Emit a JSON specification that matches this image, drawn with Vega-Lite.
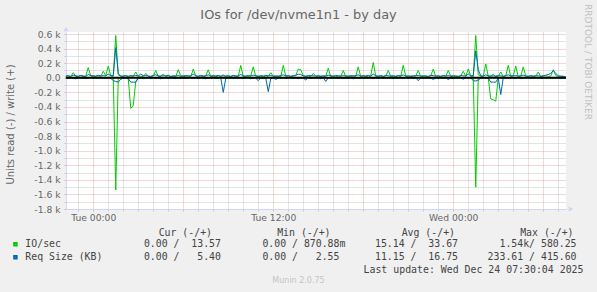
{
  "$schema": "https://vega.github.io/schema/vega-lite/v6.json",
  "width": 500,
  "height": 177,
  "autosize": {"type": "none"},
  "padding": {"left": 66, "top": 32, "right": 31, "bottom": 83},
  "background": "#F0F0F0",
  "config": {
    "font": "DejaVu Sans",
    "view": {"fill": "white", "stroke": null},
    "axis": {"labelFont": "DejaVu Sans", "titleFont": "DejaVu Sans"}
  },
  "data": {"values": [
    {"t":"2025-12-22T22:10Z","iw":18,"ir":0,"sw":25,"sr":0},
    {"t":"2025-12-22T22:20Z","iw":22,"ir":0,"sw":30,"sr":-10},
    {"t":"2025-12-22T22:30Z","iw":15,"ir":0,"sw":20,"sr":0},
    {"t":"2025-12-22T22:40Z","iw":70,"ir":0,"sw":35,"sr":-5},
    {"t":"2025-12-22T22:50Z","iw":20,"ir":0,"sw":28,"sr":-15},
    {"t":"2025-12-22T23:00Z","iw":12,"ir":0,"sw":22,"sr":0},
    {"t":"2025-12-22T23:10Z","iw":28,"ir":0,"sw":32,"sr":-8},
    {"t":"2025-12-22T23:20Z","iw":17,"ir":0,"sw":26,"sr":0},
    {"t":"2025-12-22T23:30Z","iw":21,"ir":0,"sw":18,"sr":-12},
    {"t":"2025-12-22T23:40Z","iw":140,"ir":0,"sw":45,"sr":-3},
    {"t":"2025-12-22T23:50Z","iw":24,"ir":0,"sw":28,"sr":0},
    {"t":"2025-12-23T00:00Z","iw":16,"ir":0,"sw":30,"sr":-6},
    {"t":"2025-12-23T00:10Z","iw":19,"ir":0,"sw":22,"sr":0},
    {"t":"2025-12-23T00:20Z","iw":26,"ir":0,"sw":34,"sr":-10},
    {"t":"2025-12-23T00:30Z","iw":14,"ir":0,"sw":27,"sr":-4},
    {"t":"2025-12-23T00:40Z","iw":90,"ir":0,"sw":30,"sr":0},
    {"t":"2025-12-23T00:50Z","iw":30,"ir":0,"sw":24,"sr":-8},
    {"t":"2025-12-23T01:00Z","iw":160,"ir":0,"sw":50,"sr":0},
    {"t":"2025-12-23T01:10Z","iw":25,"ir":0,"sw":28,"sr":-5},
    {"t":"2025-12-23T01:20Z","iw":20,"ir":0,"sw":30,"sr":-40},
    {"t":"2025-12-23T01:30Z","iw":580,"ir":-1540,"sw":415,"sr":-50},
    {"t":"2025-12-23T01:40Z","iw":40,"ir":0,"sw":60,"sr":-60},
    {"t":"2025-12-23T01:50Z","iw":22,"ir":0,"sw":20,"sr":-20},
    {"t":"2025-12-23T02:00Z","iw":18,"ir":0,"sw":26,"sr":-5},
    {"t":"2025-12-23T02:10Z","iw":27,"ir":0,"sw":30,"sr":0},
    {"t":"2025-12-23T02:20Z","iw":15,"ir":-10,"sw":22,"sr":-10},
    {"t":"2025-12-23T02:30Z","iw":30,"ir":-420,"sw":28,"sr":-60},
    {"t":"2025-12-23T02:40Z","iw":20,"ir":-380,"sw":24,"sr":-60},
    {"t":"2025-12-23T02:50Z","iw":80,"ir":-50,"sw":32,"sr":-60},
    {"t":"2025-12-23T03:00Z","iw":18,"ir":0,"sw":26,"sr":-8},
    {"t":"2025-12-23T03:10Z","iw":22,"ir":0,"sw":50,"sr":0},
    {"t":"2025-12-23T03:20Z","iw":16,"ir":0,"sw":28,"sr":-12},
    {"t":"2025-12-23T03:30Z","iw":60,"ir":0,"sw":30,"sr":-4},
    {"t":"2025-12-23T03:40Z","iw":21,"ir":0,"sw":24,"sr":0},
    {"t":"2025-12-23T03:50Z","iw":13,"ir":0,"sw":20,"sr":-10},
    {"t":"2025-12-23T04:00Z","iw":24,"ir":0,"sw":32,"sr":0},
    {"t":"2025-12-23T04:10Z","iw":100,"ir":0,"sw":40,"sr":-6},
    {"t":"2025-12-23T04:20Z","iw":19,"ir":0,"sw":26,"sr":0},
    {"t":"2025-12-23T04:30Z","iw":23,"ir":0,"sw":22,"sr":-14},
    {"t":"2025-12-23T04:40Z","iw":50,"ir":0,"sw":30,"sr":-3},
    {"t":"2025-12-23T04:50Z","iw":17,"ir":0,"sw":27,"sr":0},
    {"t":"2025-12-23T05:00Z","iw":26,"ir":0,"sw":34,"sr":-9},
    {"t":"2025-12-23T05:10Z","iw":14,"ir":0,"sw":20,"sr":0},
    {"t":"2025-12-23T05:20Z","iw":20,"ir":0,"sw":28,"sr":-5},
    {"t":"2025-12-23T05:30Z","iw":18,"ir":0,"sw":25,"sr":-12},
    {"t":"2025-12-23T05:40Z","iw":110,"ir":0,"sw":30,"sr":0},
    {"t":"2025-12-23T05:50Z","iw":25,"ir":0,"sw":22,"sr":-7},
    {"t":"2025-12-23T06:00Z","iw":16,"ir":0,"sw":29,"sr":0},
    {"t":"2025-12-23T06:10Z","iw":21,"ir":0,"sw":31,"sr":-10},
    {"t":"2025-12-23T06:20Z","iw":28,"ir":0,"sw":24,"sr":-2},
    {"t":"2025-12-23T06:30Z","iw":15,"ir":0,"sw":26,"sr":0},
    {"t":"2025-12-23T06:40Z","iw":120,"ir":0,"sw":50,"sr":-8},
    {"t":"2025-12-23T06:50Z","iw":22,"ir":0,"sw":28,"sr":0},
    {"t":"2025-12-23T07:00Z","iw":19,"ir":0,"sw":21,"sr":-11},
    {"t":"2025-12-23T07:10Z","iw":24,"ir":0,"sw":33,"sr":0},
    {"t":"2025-12-23T07:20Z","iw":13,"ir":0,"sw":25,"sr":-5},
    {"t":"2025-12-23T07:30Z","iw":27,"ir":0,"sw":27,"sr":-14},
    {"t":"2025-12-23T07:40Z","iw":110,"ir":0,"sw":40,"sr":0},
    {"t":"2025-12-23T07:50Z","iw":18,"ir":0,"sw":23,"sr":-6},
    {"t":"2025-12-23T08:00Z","iw":22,"ir":0,"sw":30,"sr":0},
    {"t":"2025-12-23T08:10Z","iw":16,"ir":0,"sw":26,"sr":-9},
    {"t":"2025-12-23T08:20Z","iw":25,"ir":0,"sw":32,"sr":-3},
    {"t":"2025-12-23T08:30Z","iw":20,"ir":0,"sw":22,"sr":0},
    {"t":"2025-12-23T08:40Z","iw":40,"ir":0,"sw":28,"sr":-200},
    {"t":"2025-12-23T08:50Z","iw":17,"ir":0,"sw":25,"sr":-10},
    {"t":"2025-12-23T09:00Z","iw":23,"ir":0,"sw":30,"sr":0},
    {"t":"2025-12-23T09:10Z","iw":14,"ir":0,"sw":21,"sr":-5},
    {"t":"2025-12-23T09:20Z","iw":26,"ir":0,"sw":34,"sr":-12},
    {"t":"2025-12-23T09:30Z","iw":19,"ir":0,"sw":27,"sr":0},
    {"t":"2025-12-23T09:40Z","iw":21,"ir":0,"sw":24,"sr":-7},
    {"t":"2025-12-23T09:50Z","iw":170,"ir":0,"sw":45,"sr":0},
    {"t":"2025-12-23T10:00Z","iw":15,"ir":0,"sw":28,"sr":-10},
    {"t":"2025-12-23T10:10Z","iw":24,"ir":0,"sw":22,"sr":-2},
    {"t":"2025-12-23T10:20Z","iw":18,"ir":0,"sw":31,"sr":0},
    {"t":"2025-12-23T10:30Z","iw":27,"ir":0,"sw":26,"sr":-13},
    {"t":"2025-12-23T10:40Z","iw":150,"ir":0,"sw":35,"sr":0},
    {"t":"2025-12-23T10:50Z","iw":20,"ir":0,"sw":29,"sr":-6},
    {"t":"2025-12-23T11:00Z","iw":16,"ir":0,"sw":23,"sr":-40},
    {"t":"2025-12-23T11:10Z","iw":22,"ir":0,"sw":30,"sr":0},
    {"t":"2025-12-23T11:20Z","iw":13,"ir":0,"sw":25,"sr":-8},
    {"t":"2025-12-23T11:30Z","iw":25,"ir":0,"sw":33,"sr":-4},
    {"t":"2025-12-23T11:40Z","iw":19,"ir":0,"sw":27,"sr":-190},
    {"t":"2025-12-23T11:50Z","iw":70,"ir":0,"sw":30,"sr":-10},
    {"t":"2025-12-23T12:00Z","iw":21,"ir":0,"sw":24,"sr":0},
    {"t":"2025-12-23T12:10Z","iw":17,"ir":0,"sw":28,"sr":-25},
    {"t":"2025-12-23T12:20Z","iw":24,"ir":0,"sw":21,"sr":0},
    {"t":"2025-12-23T12:30Z","iw":15,"ir":0,"sw":32,"sr":-9},
    {"t":"2025-12-23T12:40Z","iw":170,"ir":0,"sw":40,"sr":0},
    {"t":"2025-12-23T12:50Z","iw":20,"ir":0,"sw":26,"sr":-11},
    {"t":"2025-12-23T13:00Z","iw":26,"ir":0,"sw":30,"sr":-3},
    {"t":"2025-12-23T13:10Z","iw":14,"ir":0,"sw":23,"sr":0},
    {"t":"2025-12-23T13:20Z","iw":22,"ir":0,"sw":28,"sr":-7},
    {"t":"2025-12-23T13:30Z","iw":30,"ir":0,"sw":34,"sr":0},
    {"t":"2025-12-23T13:40Z","iw":120,"ir":0,"sw":50,"sr":-12},
    {"t":"2025-12-23T13:50Z","iw":110,"ir":0,"sw":45,"sr":0},
    {"t":"2025-12-23T14:00Z","iw":28,"ir":0,"sw":26,"sr":-5},
    {"t":"2025-12-23T14:10Z","iw":18,"ir":0,"sw":22,"sr":-30},
    {"t":"2025-12-23T14:20Z","iw":23,"ir":0,"sw":29,"sr":0},
    {"t":"2025-12-23T14:30Z","iw":16,"ir":0,"sw":31,"sr":-10},
    {"t":"2025-12-23T14:40Z","iw":60,"ir":0,"sw":27,"sr":0},
    {"t":"2025-12-23T14:50Z","iw":21,"ir":0,"sw":24,"sr":-6},
    {"t":"2025-12-23T15:00Z","iw":15,"ir":0,"sw":30,"sr":0},
    {"t":"2025-12-23T15:10Z","iw":25,"ir":0,"sw":20,"sr":-13},
    {"t":"2025-12-23T15:20Z","iw":19,"ir":0,"sw":28,"sr":0},
    {"t":"2025-12-23T15:30Z","iw":22,"ir":0,"sw":25,"sr":-50},
    {"t":"2025-12-23T15:40Z","iw":130,"ir":0,"sw":35,"sr":0},
    {"t":"2025-12-23T15:50Z","iw":17,"ir":0,"sw":30,"sr":-8},
    {"t":"2025-12-23T16:00Z","iw":24,"ir":0,"sw":22,"sr":0},
    {"t":"2025-12-23T16:10Z","iw":14,"ir":0,"sw":33,"sr":-4},
    {"t":"2025-12-23T16:20Z","iw":26,"ir":0,"sw":26,"sr":-11},
    {"t":"2025-12-23T16:30Z","iw":20,"ir":0,"sw":24,"sr":0},
    {"t":"2025-12-23T16:40Z","iw":100,"ir":0,"sw":30,"sr":-6},
    {"t":"2025-12-23T16:50Z","iw":18,"ir":0,"sw":27,"sr":0},
    {"t":"2025-12-23T17:00Z","iw":23,"ir":0,"sw":21,"sr":-9},
    {"t":"2025-12-23T17:10Z","iw":15,"ir":0,"sw":31,"sr":0},
    {"t":"2025-12-23T17:20Z","iw":27,"ir":0,"sw":25,"sr":-14},
    {"t":"2025-12-23T17:30Z","iw":21,"ir":0,"sw":28,"sr":0},
    {"t":"2025-12-23T17:40Z","iw":150,"ir":0,"sw":40,"sr":-3},
    {"t":"2025-12-23T17:50Z","iw":16,"ir":0,"sw":23,"sr":0},
    {"t":"2025-12-23T18:00Z","iw":24,"ir":0,"sw":30,"sr":-10},
    {"t":"2025-12-23T18:10Z","iw":19,"ir":0,"sw":26,"sr":0},
    {"t":"2025-12-23T18:20Z","iw":13,"ir":0,"sw":32,"sr":-7},
    {"t":"2025-12-23T18:30Z","iw":25,"ir":0,"sw":22,"sr":0},
    {"t":"2025-12-23T18:40Z","iw":210,"ir":0,"sw":50,"sr":-12},
    {"t":"2025-12-23T18:50Z","iw":20,"ir":0,"sw":28,"sr":0},
    {"t":"2025-12-23T19:00Z","iw":17,"ir":0,"sw":24,"sr":-5},
    {"t":"2025-12-23T19:10Z","iw":23,"ir":0,"sw":30,"sr":0},
    {"t":"2025-12-23T19:20Z","iw":15,"ir":0,"sw":21,"sr":-9},
    {"t":"2025-12-23T19:30Z","iw":26,"ir":0,"sw":33,"sr":0},
    {"t":"2025-12-23T19:40Z","iw":100,"ir":0,"sw":27,"sr":-4},
    {"t":"2025-12-23T19:50Z","iw":18,"ir":0,"sw":25,"sr":0},
    {"t":"2025-12-23T20:00Z","iw":22,"ir":0,"sw":29,"sr":-13},
    {"t":"2025-12-23T20:10Z","iw":14,"ir":0,"sw":22,"sr":0},
    {"t":"2025-12-23T20:20Z","iw":27,"ir":0,"sw":31,"sr":-6},
    {"t":"2025-12-23T20:30Z","iw":19,"ir":0,"sw":26,"sr":0},
    {"t":"2025-12-23T20:40Z","iw":170,"ir":0,"sw":40,"sr":-10},
    {"t":"2025-12-23T20:50Z","iw":21,"ir":0,"sw":24,"sr":0},
    {"t":"2025-12-23T21:00Z","iw":16,"ir":0,"sw":28,"sr":-3},
    {"t":"2025-12-23T21:10Z","iw":24,"ir":0,"sw":20,"sr":0},
    {"t":"2025-12-23T21:20Z","iw":13,"ir":0,"sw":30,"sr":-11},
    {"t":"2025-12-23T21:30Z","iw":25,"ir":0,"sw":27,"sr":0},
    {"t":"2025-12-23T21:40Z","iw":100,"ir":0,"sw":32,"sr":-40},
    {"t":"2025-12-23T21:50Z","iw":20,"ir":0,"sw":23,"sr":0},
    {"t":"2025-12-23T22:00Z","iw":17,"ir":0,"sw":29,"sr":-8},
    {"t":"2025-12-23T22:10Z","iw":23,"ir":0,"sw":25,"sr":0},
    {"t":"2025-12-23T22:20Z","iw":15,"ir":0,"sw":21,"sr":-5},
    {"t":"2025-12-23T22:30Z","iw":26,"ir":0,"sw":33,"sr":0},
    {"t":"2025-12-23T22:40Z","iw":120,"ir":0,"sw":30,"sr":-25},
    {"t":"2025-12-23T22:50Z","iw":18,"ir":0,"sw":24,"sr":0},
    {"t":"2025-12-23T23:00Z","iw":22,"ir":0,"sw":28,"sr":-12},
    {"t":"2025-12-23T23:10Z","iw":14,"ir":0,"sw":22,"sr":0},
    {"t":"2025-12-23T23:20Z","iw":27,"ir":0,"sw":31,"sr":-6},
    {"t":"2025-12-23T23:30Z","iw":19,"ir":0,"sw":26,"sr":0},
    {"t":"2025-12-23T23:40Z","iw":100,"ir":0,"sw":30,"sr":-25},
    {"t":"2025-12-23T23:50Z","iw":21,"ir":0,"sw":23,"sr":0},
    {"t":"2025-12-24T00:00Z","iw":16,"ir":0,"sw":29,"sr":-9},
    {"t":"2025-12-24T00:10Z","iw":24,"ir":0,"sw":25,"sr":0},
    {"t":"2025-12-24T00:20Z","iw":13,"ir":0,"sw":21,"sr":-4},
    {"t":"2025-12-24T00:30Z","iw":25,"ir":0,"sw":32,"sr":0},
    {"t":"2025-12-24T00:40Z","iw":90,"ir":0,"sw":28,"sr":-20},
    {"t":"2025-12-24T00:50Z","iw":20,"ir":0,"sw":24,"sr":0},
    {"t":"2025-12-24T01:00Z","iw":120,"ir":0,"sw":50,"sr":-7},
    {"t":"2025-12-24T01:10Z","iw":23,"ir":0,"sw":27,"sr":0},
    {"t":"2025-12-24T01:20Z","iw":18,"ir":0,"sw":30,"sr":-40},
    {"t":"2025-12-24T01:30Z","iw":580,"ir":-1500,"sw":370,"sr":-45},
    {"t":"2025-12-24T01:40Z","iw":40,"ir":0,"sw":110,"sr":-30},
    {"t":"2025-12-24T01:50Z","iw":22,"ir":0,"sw":26,"sr":-5},
    {"t":"2025-12-24T02:00Z","iw":17,"ir":0,"sw":23,"sr":0},
    {"t":"2025-12-24T02:10Z","iw":190,"ir":0,"sw":40,"sr":-8},
    {"t":"2025-12-24T02:20Z","iw":20,"ir":0,"sw":28,"sr":0},
    {"t":"2025-12-24T02:30Z","iw":24,"ir":-290,"sw":22,"sr":-60},
    {"t":"2025-12-24T02:40Z","iw":50,"ir":-300,"sw":27,"sr":-60},
    {"t":"2025-12-24T02:50Z","iw":18,"ir":-320,"sw":24,"sr":-60},
    {"t":"2025-12-24T03:00Z","iw":21,"ir":0,"sw":30,"sr":-5},
    {"t":"2025-12-24T03:10Z","iw":80,"ir":0,"sw":26,"sr":-230},
    {"t":"2025-12-24T03:20Z","iw":15,"ir":0,"sw":22,"sr":0},
    {"t":"2025-12-24T03:30Z","iw":23,"ir":0,"sw":31,"sr":-10},
    {"t":"2025-12-24T03:40Z","iw":170,"ir":0,"sw":40,"sr":0},
    {"t":"2025-12-24T03:50Z","iw":19,"ir":0,"sw":25,"sr":-6},
    {"t":"2025-12-24T04:00Z","iw":26,"ir":0,"sw":28,"sr":0},
    {"t":"2025-12-24T04:10Z","iw":160,"ir":0,"sw":30,"sr":-3},
    {"t":"2025-12-24T04:20Z","iw":14,"ir":0,"sw":23,"sr":0},
    {"t":"2025-12-24T04:30Z","iw":22,"ir":0,"sw":29,"sr":-12},
    {"t":"2025-12-24T04:40Z","iw":150,"ir":0,"sw":35,"sr":0},
    {"t":"2025-12-24T04:50Z","iw":20,"ir":0,"sw":26,"sr":-5},
    {"t":"2025-12-24T05:00Z","iw":16,"ir":0,"sw":22,"sr":0},
    {"t":"2025-12-24T05:10Z","iw":25,"ir":0,"sw":30,"sr":-9},
    {"t":"2025-12-24T05:20Z","iw":18,"ir":0,"sw":24,"sr":0},
    {"t":"2025-12-24T05:30Z","iw":23,"ir":0,"sw":28,"sr":-4},
    {"t":"2025-12-24T05:40Z","iw":80,"ir":0,"sw":27,"sr":0},
    {"t":"2025-12-24T05:50Z","iw":15,"ir":0,"sw":21,"sr":-10},
    {"t":"2025-12-24T06:00Z","iw":21,"ir":0,"sw":30,"sr":0},
    {"t":"2025-12-24T06:10Z","iw":27,"ir":0,"sw":35,"sr":-6},
    {"t":"2025-12-24T06:20Z","iw":19,"ir":0,"sw":45,"sr":0},
    {"t":"2025-12-24T06:30Z","iw":24,"ir":0,"sw":60,"sr":-3},
    {"t":"2025-12-24T06:40Z","iw":110,"ir":0,"sw":100,"sr":0},
    {"t":"2025-12-24T06:50Z","iw":30,"ir":0,"sw":60,"sr":-8},
    {"t":"2025-12-24T07:00Z","iw":17,"ir":0,"sw":28,"sr":0},
    {"t":"2025-12-24T07:10Z","iw":20,"ir":0,"sw":22,"sr":-12},
    {"t":"2025-12-24T07:20Z","iw":22,"ir":0,"sw":18,"sr":-5},
    {"t":"2025-12-24T07:30Z","iw":14,"ir":0,"sw":5,"sr":0}
  ]},
  "resolve": {"axis": {"x": "independent", "y": "independent"}},
  "layer": [
    {
      "mark": {"type": "line", "strokeWidth": 1},
      "encoding": {
        "x": {
          "field": "t", "type": "temporal",
          "scale": {"type": "utc", "domain": [
            {"year": 2025, "month": 12, "date": 22, "hours": 22, "minutes": 11, "utc": true},
            {"year": 2025, "month": 12, "date": 24, "hours": 7, "minutes": 31, "utc": true}
          ]},
          "axis": {
            "orient": "bottom",
            "tickCount": 34,
            "labelExpr": "utchours(datum.value) % 12 == 0 ? utcFormat(datum.value, '%a %H:%M') : ''",
            "labelOverlap": false,
            "labelFlush": false,
            "labelFontSize": 9.2,
            "labelColor": "#666666",
            "labelPadding": 2,
            "grid": true,
            "gridColor": {"condition": {"test": "utchours(datum.value) % 6 == 0", "value": "#EBADAD"}, "value": "#C8C8C8"},
            "gridDash": [1, 1],
            "gridWidth": 1,
            "ticks": true,
            "tickSize": 2,
            "tickColor": {"condition": {"test": "utchours(datum.value) % 6 == 0", "value": "#EBADAD"}, "value": "#C8C8C8"},
            "domainColor": "#CFD6F8",
            "title": "Last update: Wed Dec 24 07:30:04 2025",
            "titleFont": "DejaVu Sans Mono",
            "titleFontSize": 9.9,
            "titleFontWeight": "normal",
            "titleColor": "#444444",
            "titleX": 517,
            "titleY": 60,
            "titleAlign": "right",
            "titleBaseline": "middle"
          }
        },
        "y": {
          "field": "iw", "type": "quantitative",
          "scale": {"domain": [-1800, 628], "nice": false, "zero": false},
          "axis": {
            "values": [-1800,-1700,-1600,-1500,-1400,-1300,-1200,-1100,-1000,-900,-800,-700,-600,-500,-400,-300,-200,-100,0,100,200,300,400,500,600],
            "labelExpr": "datum.value % 200 != 0 ? '' : datum.value == 0 ? '0.0' : (datum.value < 0 ? '-' : '') + format(abs(datum.value) / 1000, '.1f') + ' k'",
            "labelOverlap": false,
            "labelFontSize": 9.2,
            "labelColor": "#666666",
            "labelPadding": 4,
            "grid": true,
            "gridColor": {"condition": {"test": "datum.value % 200 == 0", "value": "#EBADAD"}, "value": "#C8C8C8"},
            "gridDash": [1, 1],
            "gridWidth": 1,
            "ticks": true,
            "tickSize": 2,
            "tickColor": {"condition": {"test": "datum.value % 200 == 0", "value": "#EBADAD"}, "value": "#C8C8C8"},
            "domainColor": "#CFD6F8",
            "title": "Units read (-) / write (+)",
            "titleFontSize": 10,
            "titleFontWeight": "normal",
            "titleColor": "#666666",
            "titleAngle": 270,
            "titleX": -56,
            "titleY": 92,
            "titleAlign": "center",
            "titleBaseline": "middle"
          }
        },
        "color": {
          "datum": "IO/sec",
          "scale": {"domain": ["IO/sec", "Req Size (KB)"], "range": ["#00CC00", "#0066B3"]},
          "legend": {
            "orient": "none",
            "legendX": -55.5,
            "legendY": 196,
            "direction": "vertical",
            "padding": 0,
            "title": "\u200b\u00a0\u00a0\u00a0\u00a0\u00a0\u00a0\u00a0\u00a0\u00a0\u00a0\u00a0\u00a0\u00a0\u00a0\u00a0\u00a0\u00a0\u00a0\u00a0\u00a0\u00a0\u00a0\u00a0\u00a0\u00a0Cur\u00a0(-/+)\u00a0\u00a0\u00a0\u00a0\u00a0\u00a0\u00a0\u00a0\u00a0\u00a0\u00a0Min\u00a0(-/+)\u00a0\u00a0\u00a0\u00a0\u00a0\u00a0\u00a0\u00a0\u00a0\u00a0\u00a0\u00a0Avg\u00a0(-/+)\u00a0\u00a0\u00a0\u00a0\u00a0\u00a0\u00a0\u00a0\u00a0\u00a0\u00a0Max\u00a0(-/+)",
            "titleFont": "DejaVu Sans Mono",
            "titleFontSize": 9.85,
            "titleFontWeight": "normal",
            "titleColor": "#444444",
            "titleLimit": 1000,
            "titlePadding": 1.5,
            "labelFont": "DejaVu Sans Mono",
            "labelFontSize": 9.85,
            "labelColor": "#444444",
            "labelLimit": 1000,
            "labelOffset": 5,
            "labelExpr": "datum.label == 'IO/sec' ? 'IO/sec\u00a0\u00a0\u00a0\u00a0\u00a0\u00a0\u00a0\u00a0\u00a0\u00a0\u00a0\u00a0\u00a0\u00a00.00\u00a0/\u00a0\u00a013.57\u00a0\u00a0\u00a0\u00a0\u00a0\u00a0\u00a00.00\u00a0/\u00a0870.88m\u00a0\u00a0\u00a0\u00a0\u00a015.14\u00a0/\u00a0\u00a033.67\u00a0\u00a0\u00a0\u00a0\u00a0\u00a0\u00a01.54k/\u00a0580.25' : 'Req\u00a0Size\u00a0(KB)\u00a0\u00a0\u00a0\u00a0\u00a0\u00a0\u00a00.00\u00a0/\u00a0\u00a0\u00a05.40\u00a0\u00a0\u00a0\u00a0\u00a0\u00a0\u00a00.00\u00a0/\u00a0\u00a0\u00a02.55\u00a0\u00a0\u00a0\u00a0\u00a0\u00a011.15\u00a0/\u00a0\u00a016.75\u00a0\u00a0\u00a0\u00a0\u00a0233.61\u00a0/\u00a0415.60'",
            "symbolType": "square",
            "symbolSize": 6,
            "symbolStrokeWidth": 2,
            "rowPadding": 1
          }
        }
      }
    },
    {
      "mark": {"type": "line", "strokeWidth": 1},
      "encoding": {
        "x": {"field": "t", "type": "temporal", "axis": null},
        "y": {"field": "ir", "type": "quantitative", "axis": null},
        "color": {"datum": "IO/sec"}
      }
    },
    {
      "mark": {"type": "line", "strokeWidth": 1},
      "encoding": {
        "x": {"field": "t", "type": "temporal", "axis": null},
        "y": {"field": "sw", "type": "quantitative", "axis": null},
        "color": {"datum": "Req Size (KB)"}
      }
    },
    {
      "mark": {"type": "line", "strokeWidth": 1},
      "encoding": {
        "x": {"field": "t", "type": "temporal", "axis": null},
        "y": {"field": "sr", "type": "quantitative", "axis": null},
        "color": {"datum": "Req Size (KB)"}
      }
    },
    {
      "data": {"values": [{}]},
      "mark": {"type": "rule", "color": "#000000", "strokeWidth": 2},
      "encoding": {
        "y": {
          "datum": 0, "type": "quantitative",
          "axis": {
            "orient": "right",
            "title": "RRDTOOL / TOBI OETIKER",
            "labels": false, "ticks": false, "domain": false, "grid": false,
            "titleAngle": 90,
            "titleX": 21,
            "titleY": 29.5,
            "titleAlign": "center",
            "titleBaseline": "middle",
            "titleFontSize": 9,
            "titleFontWeight": "normal",
            "titleColor": "#BFBFBF"
          }
        }
      }
    },
    {
      "data": {"values": [{}]},
      "mark": {"type": "point", "shape": "triangle-up", "filled": true, "color": "#CFD6F8", "opacity": 1, "size": 28, "yOffset": -3},
      "encoding": {
        "x": {
          "datum": {"year": 2025, "month": 12, "date": 22, "hours": 22, "minutes": 11, "utc": true},
          "type": "temporal",
          "axis": {
            "orient": "top",
            "title": "IOs for /dev/nvme1n1 - by day",
            "labels": false, "ticks": false, "domain": false, "grid": false,
            "titleX": 232,
            "titleY": -14,
            "titleAlign": "center",
            "titleBaseline": "alphabetic",
            "titleFontSize": 12.9,
            "titleFontWeight": "normal",
            "titleColor": "#666666"
          }
        },
        "y": {"datum": 628, "type": "quantitative", "axis": null}
      }
    },
    {
      "data": {"values": [{}]},
      "mark": {"type": "point", "shape": "triangle-right", "filled": true, "color": "#CFD6F8", "opacity": 1, "size": 28, "xOffset": 5},
      "encoding": {
        "x": {
          "datum": {"year": 2025, "month": 12, "date": 24, "hours": 7, "minutes": 31, "utc": true},
          "type": "temporal",
          "axis": {
            "orient": "bottom",
            "title": "Munin 2.0.75",
            "labels": false, "ticks": false, "domain": false, "grid": false,
            "titleX": 232,
            "titleY": 71.5,
            "titleAlign": "center",
            "titleBaseline": "middle",
            "titleFontSize": 8,
            "titleFontWeight": "normal",
            "titleColor": "#C4C4C4"
          }
        },
        "y": {"datum": -1800, "type": "quantitative", "axis": null}
      }
    }
  ]
}
